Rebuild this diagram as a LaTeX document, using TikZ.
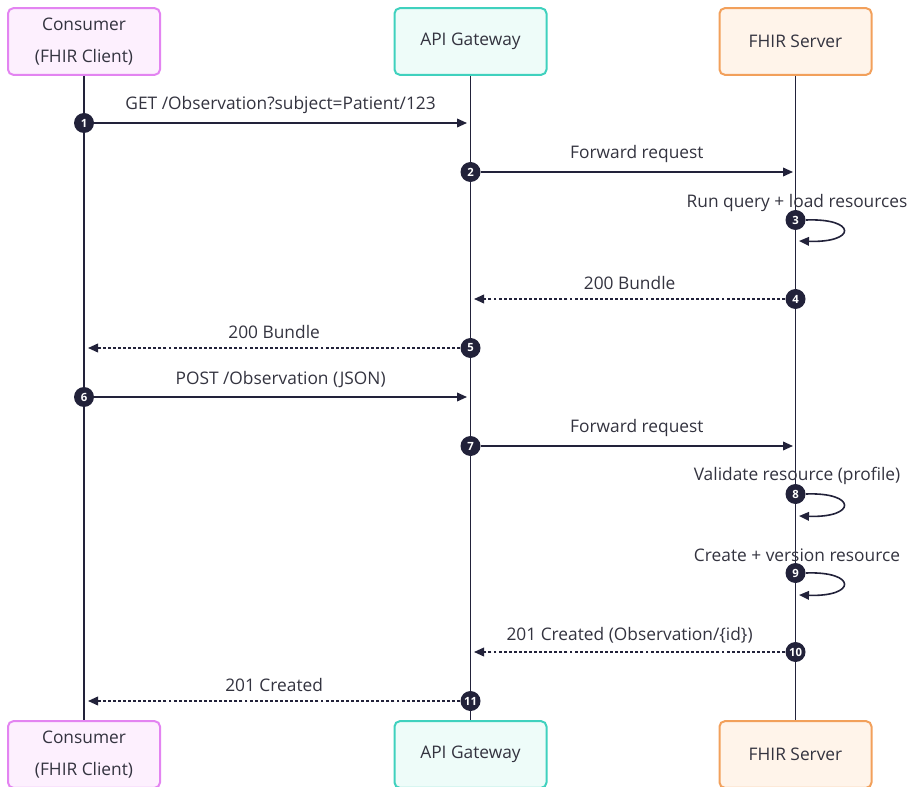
\documentclass[tikz,border=0pt]{standalone}
\usepackage{fontspec}
\setmainfont{Open Sans}
\usetikzlibrary{arrows.meta}

\definecolor{ink}{HTML}{22223A}
\definecolor{txt}{HTML}{33333F}
\definecolor{conStroke}{HTML}{E384F1}
\definecolor{conFill}{HTML}{FDF0FE}
\definecolor{gwStroke}{HTML}{3FD1BE}
\definecolor{gwFill}{HTML}{EEFCF9}
\definecolor{srvStroke}{HTML}{F2A05B}
\definecolor{srvFill}{HTML}{FFF4EA}

\tikzset{
  actor/.style={draw, line width=1.5pt, rounded corners=4pt, minimum width=114pt,
    minimum height=50pt, align=center, text=txt,
    font=\fontsize{13}{24}\selectfont},
  lifeline/.style={ink, line width=1.4pt},
  msg/.style={ink, line width=1.2pt, -{Triangle[length=7.5pt,width=6.5pt]}},
  reply/.style={msg, dash pattern=on 2.2pt off 1.6pt},
  num/.style={circle, fill=ink, text=white, inner sep=0pt, minimum size=15pt,
    font=\fontsize{8.5}{8.5}\selectfont\bfseries},
  lbl/.style={text=txt, font=\fontsize{13}{15}\selectfont}
}

\begin{document}
\begin{tikzpicture}[x=0.75pt,y=-0.75pt]
\useasboundingbox (0,0) rectangle (909,787);

% participants
\node[actor, draw=conStroke, fill=conFill] (conTop) at (84,41.5) {Consumer\\(FHIR Client)};
\node[actor, draw=gwStroke, fill=gwFill] (gwTop) at (470.5,41.5) {API Gateway};
\node[actor, draw=srvStroke, fill=srvFill] (srvTop) at (795.5,41.5) {FHIR Server};

\node[actor, draw=conStroke, fill=conFill] (conBot) at (84,754.5) {Consumer\\(FHIR Client)};
\node[actor, draw=gwStroke, fill=gwFill] (gwBot) at (470.5,754.5) {API Gateway};
\node[actor, draw=srvStroke, fill=srvFill] (srvBot) at (795.5,754.5) {FHIR Server};

% lifelines
\draw[lifeline] (conTop) -- (conBot);
\draw[lifeline] (gwTop) -- (gwBot);
\draw[lifeline] (srvTop) -- (srvBot);

% query
\node[num] (n1) at (84,123) {1};
\coordinate (g1) at (467,123);
\draw[msg] (n1) -- (g1) node[lbl, midway, above=3pt] {GET /Observation?subject=Patient/123};

\node[num] (n2) at (470.5,172) {2};
\coordinate (s2) at (793,172);
\draw[msg] (n2) -- (s2) node[lbl, midway, above=3pt] {Forward request};

\node[num] (n3) at (795.5,220) {3};
\coordinate (s3) at (799,241);
\node[lbl] (l3) at (797,203) {Run query + load resources};
\draw[msg] (n3.east) .. controls (857,218) and (857,243) .. (s3);

\node[num] (n4) at (795.5,299) {4};
\coordinate (g4) at (474,299);
\draw[reply] (n4) -- (g4) node[lbl, midway, above=3pt] {200 Bundle};

\node[num] (n5) at (470.5,348) {5};
\coordinate (c5) at (88,348);
\draw[reply] (n5) -- (c5) node[lbl, midway, above=3pt] {200 Bundle};

% create
\node[num] (n6) at (84,397) {6};
\coordinate (g6) at (467,397);
\draw[msg] (n6) -- (g6) node[lbl, midway, above=3pt] {POST /Observation (JSON)};

\node[num] (n7) at (470.5,446) {7};
\coordinate (s7) at (793,446);
\draw[msg] (n7) -- (s7) node[lbl, midway, above=3pt] {Forward request};

\node[num] (n8) at (795.5,494) {8};
\coordinate (s8) at (799,516);
\node[lbl] (l8) at (797,476) {Validate resource (profile)};
\draw[msg] (n8.east) .. controls (857,492) and (857,518) .. (s8);

\node[num] (n9) at (795.5,573) {9};
\coordinate (s9) at (799,595);
\node[lbl] (l9) at (797,555) {Create + version resource};
\draw[msg] (n9.east) .. controls (857,571) and (857,597) .. (s9);

\node[num] (n10) at (795.5,652) {10};
\coordinate (g10) at (474,652);
\draw[reply] (n10) -- (g10) node[lbl, midway, above=3pt] {201 Created (Observation/\{id\})};

\node[num] (n11) at (470.5,701) {11};
\coordinate (c11) at (88,701);
\draw[reply] (n11) -- (c11) node[lbl, midway, above=3pt] {201 Created};

\end{tikzpicture}
\end{document}
